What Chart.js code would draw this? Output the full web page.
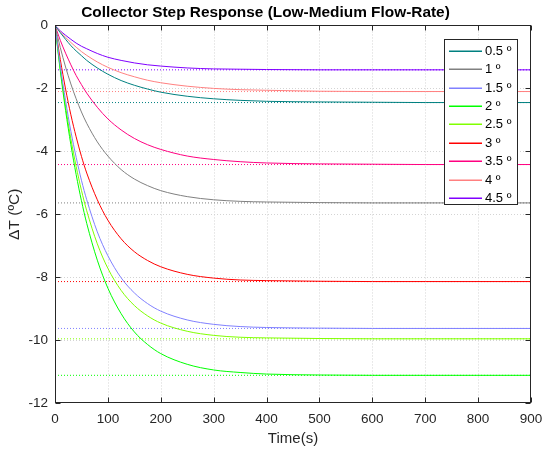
<!DOCTYPE html>
<html>
<head>
<meta charset="utf-8">
<script src="https://cdn.jsdelivr.net/npm/chart.js@4/dist/chart.umd.min.js"></script>
<style>
html,body{margin:0;padding:0;background:#fff;}
#wrap{width:544px;height:452px;}
</style>
</head>
<body>
<div id="wrap"><canvas id="c" width="544" height="452"></canvas></div>
<script>
// ---- data ----
const timeS = [0,10,20,30,40,50,60,80,100,125,150,175,200,250,300,350,400,500,600,700,800,900];
const deg05 = [0,-0.23,-0.44,-0.64,-0.81,-0.96,-1.11,-1.35,-1.55,-1.75,-1.90,-2.02,-2.12,-2.25,-2.33,-2.38,-2.41,-2.43,-2.44,-2.45,-2.45,-2.45];
const deg10 = [0,-0.70,-1.32,-1.86,-2.33,-2.75,-3.11,-3.70,-4.15,-4.58,-4.88,-5.09,-5.25,-5.44,-5.54,-5.59,-5.61,-5.63,-5.64,-5.64,-5.64,-5.64];
const deg15 = [0,-1.28,-2.39,-3.36,-4.19,-4.92,-5.54,-6.56,-7.32,-8.02,-8.50,-8.84,-9.08,-9.36,-9.50,-9.57,-9.60,-9.62,-9.63,-9.63,-9.63,-9.63];
const deg20 = [0,-1.44,-2.70,-3.79,-4.74,-5.57,-6.29,-7.46,-8.35,-9.16,-9.74,-10.14,-10.43,-10.77,-10.95,-11.03,-11.08,-11.11,-11.12,-11.12,-11.12,-11.12];
const deg25 = [0,-1.38,-2.57,-3.60,-4.48,-5.24,-5.89,-6.94,-7.72,-8.42,-8.90,-9.23,-9.46,-9.72,-9.85,-9.91,-9.93,-9.95,-9.96,-9.96,-9.96,-9.96];
const deg30 = [0,-1.08,-2.02,-2.84,-3.54,-4.16,-4.69,-5.54,-6.19,-6.78,-7.19,-7.47,-7.67,-7.91,-8.03,-8.09,-8.11,-8.13,-8.14,-8.14,-8.14,-8.14];
const deg35 = [0,-0.47,-0.88,-1.25,-1.59,-1.88,-2.15,-2.60,-2.97,-3.32,-3.59,-3.79,-3.94,-4.15,-4.26,-4.33,-4.37,-4.40,-4.41,-4.42,-4.42,-4.42];
const deg40 = [0,-0.20,-0.38,-0.54,-0.69,-0.83,-0.95,-1.16,-1.33,-1.50,-1.63,-1.74,-1.82,-1.93,-2.00,-2.04,-2.06,-2.09,-2.10,-2.10,-2.10,-2.10];
const deg45 = [0,-0.17,-0.31,-0.44,-0.56,-0.66,-0.74,-0.89,-1.01,-1.11,-1.19,-1.25,-1.29,-1.35,-1.38,-1.39,-1.40,-1.41,-1.41,-1.41,-1.41,-1.41];
const finalValues = [-2.45,-5.64,-9.63,-11.12,-9.96,-8.14,-4.42,-2.10,-1.41];
const seriesLabels = ['0.5 º','1 º','1.5 º','2 º','2.5 º','3 º','3.5 º','4 º','4.5 º'];
const xTicks = [0,100,200,300,400,500,600,700,800,900];
const yTicks = [0,-2,-4,-6,-8,-10,-12];

// ---- styles ----
const seriesColors = ['#008080','#808080','#8080ff','#00ff00','#80ff00','#ff0000','#ff0080','#ff8080','#8000ff'];
const allSeries = [deg05,deg10,deg15,deg20,deg25,deg30,deg35,deg40,deg45];
const FONT = "'Liberation Sans', Arial, Helvetica, sans-serif";
const AXIS = '#262626';

const datasets = [];
allSeries.forEach((vals, i) => {
  datasets.push({
    label: seriesLabels[i],
    data: timeS.map((t, k) => ({x: t, y: vals[k]})),
    borderColor: seriesColors[i],
    backgroundColor: seriesColors[i],
    borderWidth: 1,
    pointRadius: 0,
    cubicInterpolationMode: 'monotone',
    fill: false,
    isCurve: true
  });
});
finalValues.forEach((v, i) => {
  datasets.push({
    label: seriesLabels[i] + ' final',
    data: [{x: xTicks[0], y: v}, {x: xTicks[xTicks.length-1], y: v}],
    borderColor: seriesColors[i],
    borderWidth: 1,
    borderDash: [1, 2],
    pointRadius: 0,
    fill: false,
    isCurve: false
  });
});

const framePlugin = {
  id: 'frame',
  beforeDatasetsDraw(chart) {
    const {ctx, chartArea: a, scales: {x, y}} = chart;
    ctx.save();
    ctx.strokeStyle = '#d4d4d4';
    ctx.lineWidth = 1;
    ctx.setLineDash([1, 2]);
    xTicks.slice(1, -1).forEach(v => {
      const px = Math.round(x.getPixelForValue(v)) + 0.5;
      ctx.beginPath(); ctx.moveTo(px, a.top); ctx.lineTo(px, a.bottom); ctx.stroke();
    });
    yTicks.slice(1, -1).forEach(v => {
      const py = Math.round(y.getPixelForValue(v)) + 0.5;
      ctx.beginPath(); ctx.moveTo(a.left, py); ctx.lineTo(a.right, py); ctx.stroke();
    });
    ctx.restore();
  },
  afterDatasetsDraw(chart) {
    const {ctx, chartArea: a, scales: {x, y}} = chart;
    ctx.save();
    ctx.strokeStyle = AXIS;
    ctx.lineWidth = 1;
    ctx.setLineDash([]);
    const L = Math.round(a.left) + 0.5, R = Math.round(a.right) - 0.5;
    const T = Math.round(a.top) + 0.5, B = Math.round(a.bottom) - 0.5;
    ctx.strokeRect(L, T, R - L, B - T);
    const tl = 5;
    xTicks.forEach(v => {
      const px = Math.round(x.getPixelForValue(v)) + 0.5;
      ctx.beginPath(); ctx.moveTo(px, B); ctx.lineTo(px, B - tl); ctx.stroke();
      ctx.beginPath(); ctx.moveTo(px, T); ctx.lineTo(px, T + tl); ctx.stroke();
    });
    yTicks.forEach(v => {
      const py = Math.round(y.getPixelForValue(v)) + 0.5;
      ctx.beginPath(); ctx.moveTo(L, py); ctx.lineTo(L + tl, py); ctx.stroke();
      ctx.beginPath(); ctx.moveTo(R, py); ctx.lineTo(R - tl, py); ctx.stroke();
    });
    // legend
    const curves = chart.data.datasets.filter(d => d.isCurve);
    const lx = 444.5, ly = 39.5, lw = 73, lh = 165;
    ctx.fillStyle = '#ffffff';
    ctx.fillRect(lx, ly, lw, lh);
    ctx.strokeStyle = AXIS;
    ctx.strokeRect(lx, ly, lw, lh);
    ctx.font = '13px ' + FONT;
    ctx.textBaseline = 'middle';
    ctx.textAlign = 'left';
    curves.forEach((d, i) => {
      const cy = Math.round(50.7 + i * 18.4);
      ctx.fillStyle = d.borderColor;
      ctx.fillRect(449, cy - 0.5, 33, 1.5);
      ctx.fillStyle = '#000';
      ctx.fillText(d.label, 485, cy + 0.5);
    });
    ctx.restore();
  }
};

new Chart(document.getElementById('c'), {
  type: 'line',
  data: {datasets},
  plugins: [framePlugin],
  options: {
    responsive: false,
    animation: false,
    layout: {padding: {left: 0, right: 13, top: 0, bottom: 0}},
    plugins: {
      legend: {display: false},
      tooltip: {enabled: false},
      title: {
        display: true,
        text: 'Collector Step Response (Low-Medium Flow-Rate)',
        color: '#000',
        font: {family: FONT, size: 15.4, weight: 'bold', lineHeight: 1.2},
        padding: {top: 4, bottom: 3}
      }
    },
    scales: {
      x: {
        type: 'linear',
        min: 0, max: 900,
        afterBuildTicks: s => { s.ticks = xTicks.map(v => ({value: v})); },
        afterFit: s => { s.height = 49; s.paddingLeft = 0; s.paddingRight = 0; },
        grid: {display: false, drawTicks: false},
        border: {display: false},
        ticks: {color: '#262626', font: {family: FONT, size: 13.5}, padding: 8, maxRotation: 0},
        title: {display: true, text: 'Time(s)', color: '#262626', font: {family: FONT, size: 15}, padding: {top: 0, bottom: 4}}
      },
      y: {
        type: 'linear',
        min: -12, max: 0,
        afterBuildTicks: s => { s.ticks = yTicks.map(v => ({value: v})); },
        afterFit: s => { s.width = 55; s.paddingTop = 0; s.paddingBottom = 0; },
        grid: {display: false, drawTicks: false},
        border: {display: false},
        ticks: {color: '#262626', font: {family: FONT, size: 13.5}, padding: 7},
        title: {display: true, text: 'ΔT (ºC)', color: '#262626', font: {family: FONT, size: 15.5}, padding: {top: 5, bottom: 0}}
      }
    }
  }
});
</script>
</body>
</html>
